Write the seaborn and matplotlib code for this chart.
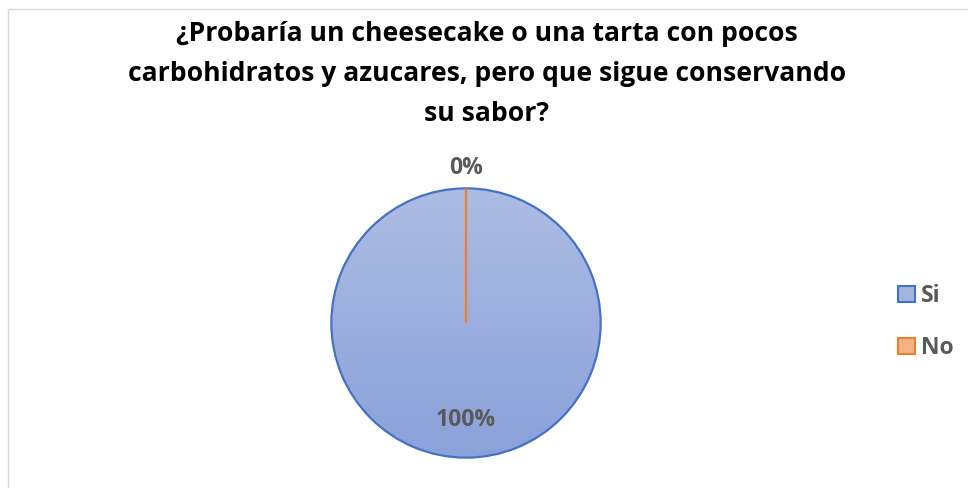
import numpy as np
import matplotlib
matplotlib.use("Agg")
import matplotlib.pyplot as plt
import seaborn as sns
from matplotlib.colors import LinearSegmentedColormap
from matplotlib.patches import Rectangle

# ---- data ----
categories = ["Si", "No"]
values = [100, 0]
title = "¿Probaría un cheesecake o una tarta con pocos\ncarbohidratos y azucares, pero que sigue conservando\nsu sabor?"

sns.set_theme(style="white")
plt.rcParams['font.family'] = ['Open Sans', 'DejaVu Sans']

edge_colors = ["#4472c4", "#ed7d31"]
legend_fill = ["#a3b4e0", "#f4b183"]
text_gray = "#595959"

fig = plt.figure(figsize=(9.68, 4.88), dpi=100)
fig.patch.set_facecolor("white")

# outer frame
fig.add_artist(Rectangle((8 / 968, -0.1), 1.2, 1 - 9 / 488 + 0.1, transform=fig.transFigure,
                         fill=False, edgecolor="#d9d9d9", linewidth=1.0))

fig.text(487 / 968, 1 - 74 / 488, title, ha="center", va="center", fontsize=19.1,
         fontweight="bold", color="black", linespacing=1.7, multialignment="center")

cx, cy, r = 466, 323, 136
ax = fig.add_axes([(cx - r) / 968, (488 - cy - r) / 488, 2 * r / 968, 2 * r / 488])
wedges, texts, autotexts = ax.pie(values, startangle=90, counterclock=False,
                                  autopct="%.0f%%", pctdistance=0.72,
                                  colors=["none", "none"],
                                  wedgeprops=dict(linewidth=1.6),
                                  textprops=dict(color=text_gray, fontsize=16.5, fontweight="bold"))
for w, ec in zip(wedges, edge_colors):
    w.set_edgecolor(ec)
    w.set_zorder(3)

# gradient fill for the main slice
cmap = LinearSegmentedColormap.from_list("g", ["#8aa1da", "#adbce3"])
grad = np.linspace(0, 1, 256).reshape(-1, 1)
im = ax.imshow(grad, extent=[-1, 1, -1, 1], origin="lower", cmap=cmap, aspect="auto", zorder=1)
im.set_clip_path(wedges[0])

# move the zero-slice label outside
for w, t in zip(wedges, autotexts):
    if w.theta2 - w.theta1 < 1:
        ang = np.deg2rad((w.theta1 + w.theta2) / 2)
        t.set_position((1.15 * np.cos(ang), 1.15 * np.sin(ang)))
    t.set_zorder(5)

ax.set_xlim(-1.01, 1.01)
ax.set_ylim(-1.01, 1.01)
ax.set_aspect("equal")
ax.axis("off")

# legend
handles = [Rectangle((0, 0), 1, 1, facecolor=f, edgecolor=e, linewidth=1.5)
           for f, e in zip(legend_fill, edge_colors)]
leg = fig.legend(handles, categories, loc="center left", bbox_to_anchor=(898 / 968, 1 - 322 / 488),
                 frameon=False, handlelength=0.72, handleheight=0.72, handletextpad=0.3,
                 borderaxespad=0, borderpad=0,
                 labelspacing=1.2, prop=dict(size=16.5, weight="bold"))
for t in leg.get_texts():
    t.set_color(text_gray)

fig.savefig("out.png", dpi=100, facecolor="white")
